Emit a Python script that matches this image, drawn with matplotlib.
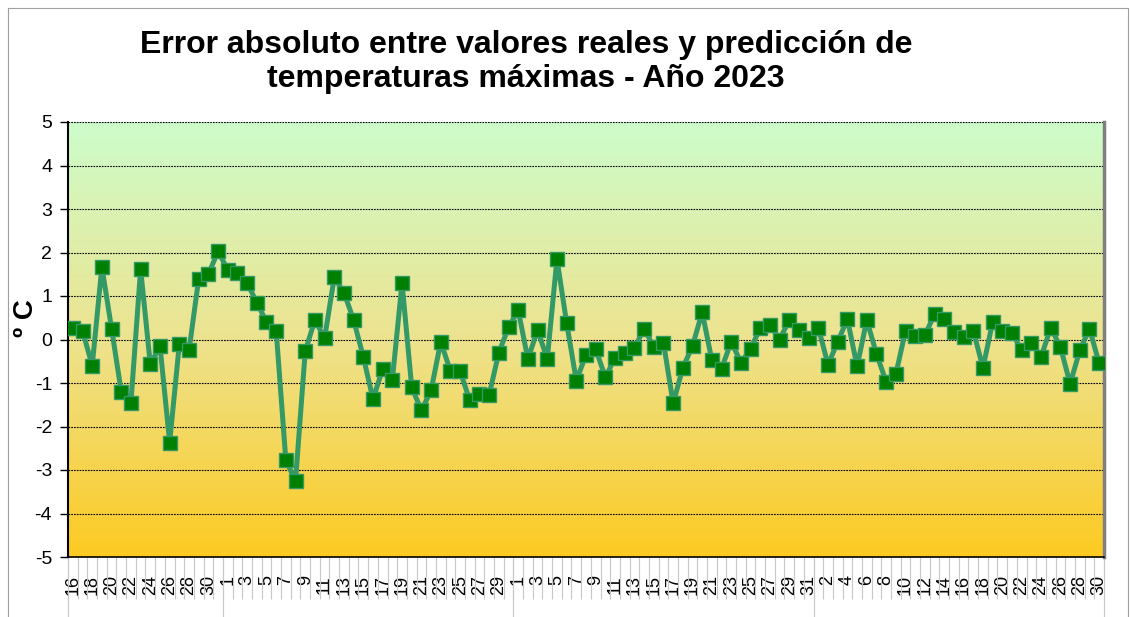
import numpy as np
import matplotlib
matplotlib.use("Agg")
from matplotlib import pyplot as plt
from matplotlib.colors import LinearSegmentedColormap

plt.rcParams['font.family'] = ['Liberation Sans', 'DejaVu Sans']
plt.rcParams['axes.unicode_minus'] = False

# days shown on the category axis (four months, the first one starting on the 16th)
month_lengths = [16, 30, 31, 30]
days = list(range(16, 32)) + list(range(1, 31)) + list(range(1, 32)) + list(range(1, 31))

# absolute error (ºC)
error = [0.26, 0.20, -0.60, 1.67, 0.25, -1.20, -1.45, 1.62, -0.57, -0.15,
         -2.37, -0.10, -0.25, 1.40, 1.50, 2.03, 1.60, 1.52, 1.30, 0.85,
         0.40, 0.20, -2.78, -3.25, -0.27, 0.45, 0.03, 1.43, 1.08, 0.45,
         -0.40, -1.37, -0.68, -0.92, 1.30, -1.10, -1.63, -1.17, -0.05, -0.73,
         -0.73, -1.40, -1.25, -1.27, -0.30, 0.28, 0.67, -0.45, 0.22, -0.45,
         1.85, 0.38, -0.95, -0.35, -0.22, -0.87, -0.42, -0.30, -0.20, 0.25,
         -0.17, -0.07, -1.47, -0.65, -0.15, 0.63, -0.48, -0.67, -0.05, -0.53,
         -0.22, 0.27, 0.33, 0.00, 0.45, 0.22, 0.03, 0.27, -0.58, -0.05,
         0.47, -0.62, 0.45, -0.33, -0.97, -0.80, 0.20, 0.07, 0.10, 0.58,
         0.47, 0.17, 0.05, 0.20, -0.65, 0.40, 0.20, 0.15, -0.25, -0.08,
         -0.40, 0.27, -0.17, -1.02, -0.25, 0.25, -0.55]

W, H = 1132, 617
fig = plt.figure(figsize=(W / 100, H / 100), dpi=100)
ax = fig.add_axes([68 / W, 1 - 557 / H, (1104 - 68) / W, (557 - 122) / H])

n = len(error)
x = np.arange(n)

# gradient background (green at top -> yellow/orange at bottom)
cmap = LinearSegmentedColormap.from_list('bg', ['#fdca22', '#ede38f', '#cdfdcb'])
grad = np.linspace(0, 1, 256).reshape(-1, 1)
ax.imshow(grad, aspect='auto', cmap=cmap, origin='lower',
          extent=[-0.5, n - 0.5, -5, 5], zorder=0)

ax.plot(x, error, color='#339966', lw=3.6, marker='s', markersize=10.5,
        markerfacecolor='#008000', markeredgecolor='#339966', markeredgewidth=1,
        zorder=3)

ax.set_xlim(-0.5, n - 0.5)
ax.set_ylim(-5, 5)
ax.set_yticks(np.arange(-5, 6, 1))
for yv in range(-4, 6):
    ax.axhline(yv, color='black', lw=0.8, ls=(0, (1.5, 1)), zorder=1)

ax.tick_params(axis='y', labelsize=14, length=5.5, width=1, pad=6, direction='out')

# category labels every other day, boundary ticks between days
ax.set_xticks(x[::2])
ax.set_xticklabels([str(d) for d in days[::2]], rotation=90, fontsize=13)
ax.tick_params(axis='x', which='major', length=0, pad=13)
ax.set_xticks(np.arange(n + 1) - 0.5, minor=True)
ax.tick_params(axis='x', which='minor', length=30, color='#c8c8c8', width=0.8)

# longer ticks at the month boundaries
bounds = np.concatenate([[0], np.cumsum(month_lengths)]) - 0.5
sec = ax.secondary_xaxis('bottom')
sec.set_xticks(bounds)
sec.set_xticklabels([])
sec.tick_params(length=60, color='#c8c8c8', width=0.8)
sec.spines['bottom'].set_visible(False)

ax.spines['top'].set_visible(False)
ax.spines['right'].set_color('#808080')
ax.spines['right'].set_linewidth(2.5)
ax.spines['left'].set_linewidth(1.5)
ax.spines['bottom'].set_linewidth(1.2)

fig.text(526 / W, 1 - 62 / H,
         'Error absoluto entre valores reales y predicción de\ntemperaturas máximas - Año 2023',
         ha='center', va='center', fontsize=23, fontweight='bold', linespacing=1.15)
fig.text(26 / W, 1 - 318 / H, 'º C', rotation=90, ha='center', va='center',
         fontsize=20, fontweight='bold')

# thin chart-area border
fig.add_artist(plt.Line2D([8 / W, 8 / W], [0, 1 - 8 / H], color='#a0a0a0', lw=0.8))
fig.add_artist(plt.Line2D([8 / W, 1128 / W], [1 - 8 / H, 1 - 8 / H], color='#a0a0a0', lw=0.8))
fig.add_artist(plt.Line2D([1128 / W, 1128 / W], [0, 1 - 8 / H], color='#a0a0a0', lw=0.8))

fig.savefig('out.png', dpi=100)
